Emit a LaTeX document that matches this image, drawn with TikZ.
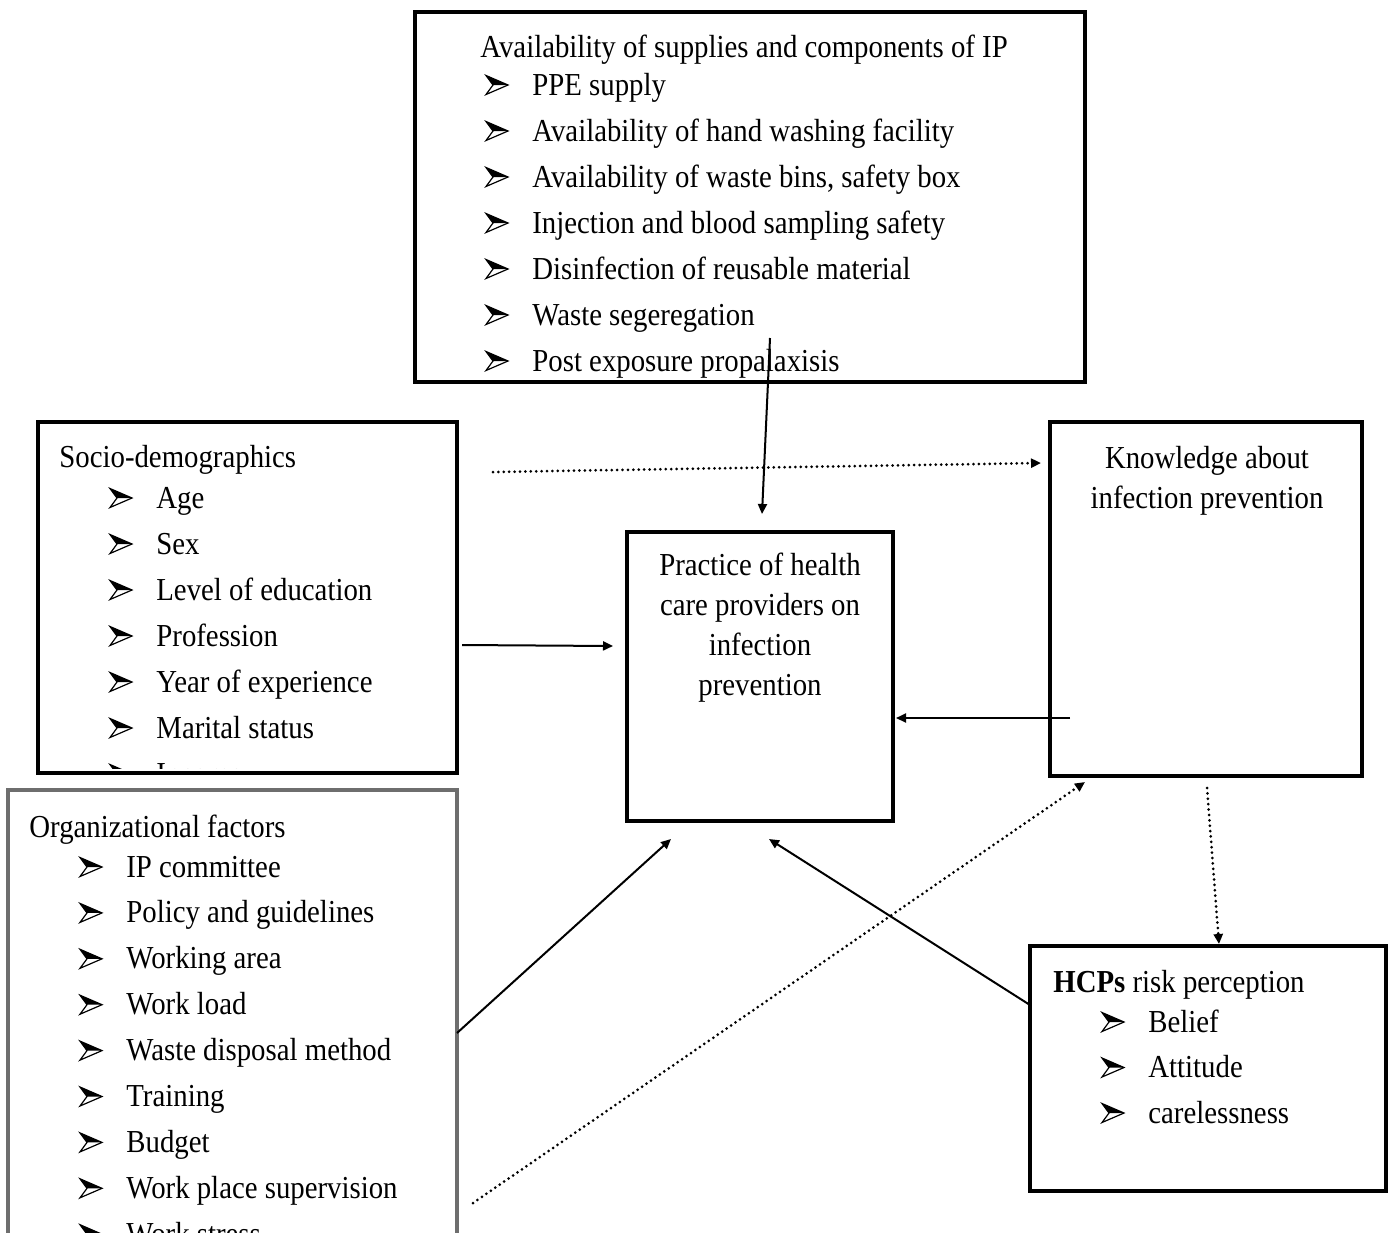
\documentclass[tikz,border=0pt]{standalone}
\usepackage{fontspec}
\setmainfont{Liberation Serif}[FakeStretch=0.9]
\usetikzlibrary{arrows.meta}
\newcommand\fs{\fontsize{16}{20}\selectfont}
\definecolor{boxgray}{RGB}{110,110,110}
\tikzset{
  box/.style={draw=black,line width=2pt,inner sep=0pt,outer sep=0pt,anchor=north west},
  gbox/.style={box,draw=boxgray},
  txt/.style={inner sep=0pt,anchor=base west,font=\fs},
  ctxt/.style={inner sep=0pt,anchor=base,font=\fs},
  conn/.style={line width=1pt,-{Triangle[length=5pt,width=4.5pt]}},
  dconn/.style={line width=1.5pt,line cap=round,dash pattern=on 0pt off 2.7pt,-{Triangle[length=5pt,width=4.5pt,line cap=butt]}},
  bul/.pic={\fill (0,-9.5)--(22,0)--(7,0)--cycle;
            \draw[line width=0.6pt,line join=miter] (0,-9.5)--(22,0)--(0,9.5)--(7,0)--cycle;}
}
\begin{document}
\begin{tikzpicture}[x=0.5pt,y=-0.5pt]
\useasboundingbox (0,0) rectangle (1391,1232);
\clip (0,0) rectangle (1391,1232);

% boxes
\node[box,minimum width=335pt,minimum height=185pt] (top) at (415,12) {};
\node[box,minimum width=209.5pt,minimum height=175.5pt] (socio) at (38,422) {};
\node[gbox,minimum width=224.5pt,minimum height=240pt] (org) at (8,790) {};
\node[box,minimum width=156pt,minimum height=177pt] (know) at (1050,422) {};
\node[box,minimum width=133pt,minimum height=144.5pt] (prac) at (627,532) {};
\node[box,minimum width=178pt,minimum height=122.5pt] (hcp) at (1030,946) {};

% top box text
\node[txt] (toptitle) at (480,57) {Availability of supplies and components of IP};
\foreach \t [count=\k from 0] in {PPE supply,Availability of hand washing facility,{Availability of waste bins, safety box},Injection and blood sampling safety,Disinfection of reusable material,Waste segeregation,Post exposure propalaxisis}{
  \pgfmathsetmacro\yy{85+46*\k}
  \node[txt] (topi\k) at (532,\yy+10) {\t};
  \pic at (486,\yy) {bul};
}

% socio box text
\node[txt] (sociotitle) at (59,467) {Socio-demographics};
\begin{scope}
\clip (40,424) rectangle (455,768);
\foreach \t [count=\k from 0] in {Age,Sex,Level of education,Profession,Year of experience,Marital status,Income}{
  \pgfmathsetmacro\yy{498+46*\k}
  \node[txt] (socioi\k) at (156,\yy+10) {\t};
  \pic at (110,\yy) {bul};
}
\end{scope}

% organizational box text
\node[txt] (orgtitle) at (29,837) {Organizational factors};
\foreach \t [count=\k from 0] in {IP committee,Policy and guidelines,Working area,Work load,Waste disposal method,Training,Budget,Work place supervision,Work stress}{
  \pgfmathsetmacro\yy{867+45.9*\k}
  \node[txt] (orgi\k) at (126,\yy+10) {\t};
  \pic at (80,\yy) {bul};
}

% knowledge
\node[ctxt] (know1) at (1207,468) {Knowledge about};
\node[ctxt] (know2) at (1207,508) {infection prevention};

% practice
\node[ctxt] (prac1) at (760,575) {Practice of health};
\node[ctxt] (prac2) at (760,615) {care providers on};
\node[ctxt] (prac3) at (760,655) {infection};
\node[ctxt] (prac4) at (760,695) {prevention};

% HCPs
\node[txt] (hcptitle) at (1053,992) {\textbf{HCPs} risk perception};
\foreach \t [count=\k from 0] in {Belief,Attitude,carelessness}{
  \pgfmathsetmacro\yy{1022+45.5*\k}
  \node[txt] (hcpi\k) at (1148,\yy+10) {\t};
  \pic at (1102,\yy) {bul};
}

% connector end points
\coordinate (a1s) at (770,338);  \coordinate (a1e) at (762,514);
\coordinate (a2s) at (462,645);  \coordinate (a2e) at (613,646);
\coordinate (a3s) at (1070,718); \coordinate (a3e) at (896,718);
\coordinate (a4s) at (457,1033); \coordinate (a4e) at (671,839);
\coordinate (a5s) at (1030,1005);\coordinate (a5e) at (769,839);
\coordinate (d1s) at (493,472);  \coordinate (d1e) at (1041,463);
\coordinate (d2s) at (1207,788); \coordinate (d2e) at (1219,944);
\coordinate (d3s) at (473,1203); \coordinate (d3e) at (1085,782);

\draw[conn] (a1s) -- (a1e);
\draw[conn] (a2s) -- (a2e);
\draw[conn] (a3s) -- (a3e);
\draw[conn] (a4s) -- (a4e);
\draw[conn] (a5s) -- (a5e);
\draw[dconn] (d1s) -- (d1e);
\draw[dconn] (d2s) -- (d2e);
\draw[dconn] (d3s) -- (d3e);
\end{tikzpicture}
\end{document}
